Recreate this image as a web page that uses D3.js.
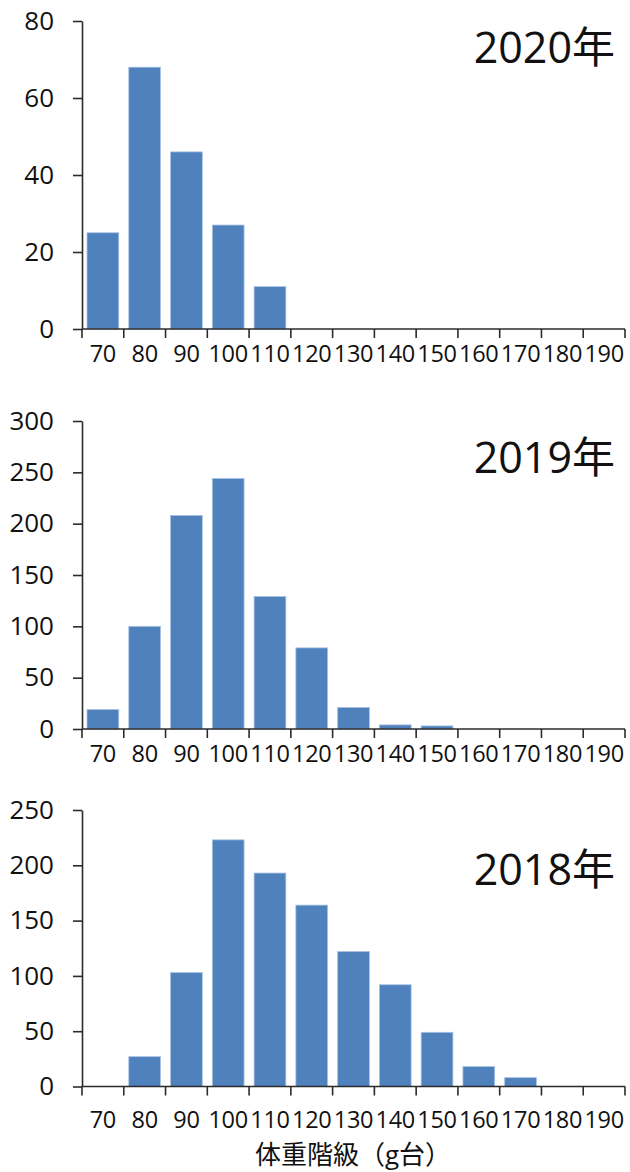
<!DOCTYPE html>
<html lang="ja">
<head>
<meta charset="UTF-8">
<title>体重階級</title>
<script src="https://d3js.org/d3.v7.min.js"></script>
<style>
  body { margin: 0; background: #fff; }
  svg text { font-family: "Open Sans", "Noto Sans CJK JP", sans-serif; fill: #111; }
</style>
</head>
<body>
<svg id="chart"></svg>
<script>
// weight class (g), lower bound of each 10 g bin
const categories = [70, 80, 90, 100, 110, 120, 130, 140, 150, 160, 170, 180, 190];

const years = ['2020年', '2019年', '2018年'];
const counts2020 = [25, 68, 46, 27, 11, 0, 0, 0, 0, 0, 0, 0, 0];
const counts2019 = [19, 100, 208, 244, 129, 79, 21, 4, 3, 0, 0, 0, 0];
const counts2018 = [0, 27, 103, 223, 193, 164, 122, 92, 49, 18, 8, 0, 0];

const yTicks2020 = [0, 20, 40, 60, 80];
const yTicks2019 = [0, 50, 100, 150, 200, 250, 300];
const yTicks2018 = [0, 50, 100, 150, 200, 250];

const xTitle = '体重階級（g台）';

const width = 630, height = 1172;
const left = 82, right = 625;
const axisColor = '#2b2b2b';
const barColor = '#4f81bd';

// one entry per panel: layout only
const panels = [
    {label: years[0], values: counts2020, ticks: yTicks2020, top: 21, bottom: 329, labelGap: 33, yearBase: 63},
    {label: years[1], values: counts2019, ticks: yTicks2019, top: 421, bottom: 729, labelGap: 33, yearBase: 473},
    {label: years[2], values: counts2018, ticks: yTicks2018, top: 810, bottom: 1086.5, labelGap: 41.5, yearBase: 885}
];

const svg = d3.select('#chart')
    .attr('width', width)
    .attr('height', height);

const x = d3.scaleBand()
    .domain(categories)
    .range([left, right])
    .paddingInner(0.24)
    .paddingOuter(0.12);

panels.forEach(p => {
    const y = d3.scaleLinear()
        .domain([0, d3.max(p.ticks)])
        .range([p.bottom, p.top]);

    const g = svg.append('g');

    // bars
    g.append('g')
        .selectAll('rect')
        .data(categories.map((c, i) => ({c: c, v: p.values[i]})).filter(d => d.v > 0))
        .enter()
        .append('rect')
        .attr('x', d => x(d.c))
        .attr('width', x.bandwidth())
        .attr('y', d => y(d.v))
        .attr('height', d => y(0) - y(d.v))
        .attr('fill', barColor)
        .attr('stroke', '#a9c2e4')
        .attr('stroke-width', 0.8);

    // y axis
    const yAxis = d3.axisLeft(y)
        .tickValues(p.ticks)
        .tickSize(9)
        .tickPadding(19)
        .tickSizeOuter(0);

    const ya = g.append('g')
        .attr('transform', `translate(${left},0)`)
        .call(yAxis);
    ya.select('.domain').attr('stroke', axisColor).attr('stroke-width', 1.6);
    ya.selectAll('.tick line').attr('stroke', axisColor).attr('stroke-width', 1.6);
    ya.selectAll('.tick text')
        .style('font-size', '26px')
        .attr('fill', '#111');

    // x axis: ticks between categories, labels centered in the bands
    const bounds = d3.range(categories.length + 1).map(i => left + i * x.step());
    g.append('line')
        .attr('x1', left).attr('x2', right)
        .attr('y1', y(0)).attr('y2', y(0))
        .attr('stroke', axisColor)
        .attr('stroke-width', 1.6);

    g.append('g')
        .selectAll('line')
        .data(bounds)
        .enter()
        .append('line')
        .attr('x1', d => d).attr('x2', d => d)
        .attr('y1', y(0)).attr('y2', y(0) + 9)
        .attr('stroke', axisColor)
        .attr('stroke-width', 1.6);

    g.append('g')
        .selectAll('text')
        .data(categories)
        .enter()
        .append('text')
        .attr('x', d => x(d) + x.bandwidth() / 2)
        .attr('y', y(0) + p.labelGap)
        .attr('text-anchor', 'middle')
        .style('font-size', '23.5px')
        .style('letter-spacing', '-0.3px')
        .text(d => d);

    // year label
    g.append('text')
        .attr('x', 615)
        .attr('y', p.yearBase)
        .attr('text-anchor', 'end')
        .style('font-size', '43px')
        .text(p.label);
});

svg.append('text')
    .attr('x', 353)
    .attr('y', 1164)
    .attr('text-anchor', 'middle')
    .style('font-size', '26px')
    .text(xTitle);
</script>
</body>
</html>
